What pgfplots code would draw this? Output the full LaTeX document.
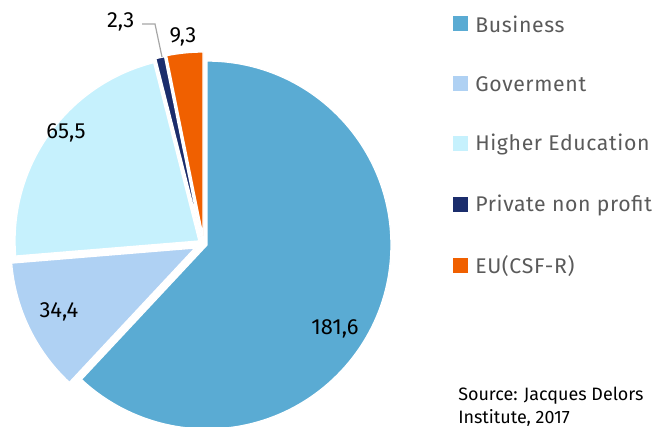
\documentclass[border=0pt]{standalone}
\usepackage{fontspec}
\setmainfont{Fira Sans}
\usepackage{pgfplots}
\pgfplotsset{compat=1.18}

\definecolor{cBus}{HTML}{5AABD3}
\definecolor{cGov}{HTML}{AFD1F3}
\definecolor{cHed}{HTML}{C6F1FD}
\definecolor{cPnp}{HTML}{1B2D6C}
\definecolor{cEu}{HTML}{F06000}
\definecolor{legtext}{HTML}{5A5A5A}

\begin{document}
\begin{tikzpicture}
% values (R&D spending), clockwise from 12 o'clock
\def\vBus{181.6}
\def\vGov{34.4}
\def\vHed{65.5}
\def\vPnp{2.3}
\def\vEu{9.3}
\pgfmathsetmacro\total{\vBus+\vGov+\vHed+\vPnp+\vEu}
\pgfmathsetmacro\aA{90}
\pgfmathsetmacro\aB{\aA-\vBus/\total*360}
\pgfmathsetmacro\aC{\aB-\vGov/\total*360}
\pgfmathsetmacro\aD{\aC-\vHed/\total*360}
\pgfmathsetmacro\aE{\aD-\vPnp/\total*360}
\pgfmathsetmacro\aF{\aE-\vEu/\total*360}
\def\R{138bp}
\begin{axis}[
    name=ax,
    x=0.75bp, y=0.75bp,
    xmin=0, xmax=664, ymin=0, ymax=427,
    hide axis,
    clip=false
]
% slices (each one pulled out a little from the centre)
\fill[cBus, draw=white, line width=1bp] (axis cs:207,182) -- ++(\aA:\R) arc[start angle=\aA, end angle=\aB, radius=\R] -- cycle;
\fill[cGov, draw=white, line width=1bp] (axis cs:195,179) -- ++(\aB:\R) arc[start angle=\aB, end angle=\aC, radius=\R] -- cycle;
\fill[cHed, draw=white, line width=1bp] (axis cs:199,186) -- ++(\aC:\R) arc[start angle=\aC, end angle=\aD, radius=\R] -- cycle;
\fill[cPnp, draw=white, line width=1bp] (axis cs:201,190) -- ++(\aD:\R) arc[start angle=\aD, end angle=\aE, radius=\R] -- cycle;
\fill[cEu, draw=white, line width=1bp] (axis cs:203,191) -- ++(\aE:\R) arc[start angle=\aE, end angle=\aF, radius=\R] -- cycle;

% value labels
\node[font=\fontsize{16.5}{18}\selectfont] at (axis cs:335,98) {181,6};
\node[font=\fontsize{16.5}{18}\selectfont] at (axis cs:59,115) {34,4};
\node[font=\fontsize{16.5}{18}\selectfont] at (axis cs:66,294) {65,5};
\node[font=\fontsize{16.5}{18}\selectfont] at (axis cs:183,390) {9,3};
\node[font=\fontsize{16.5}{18}\selectfont, anchor=east] at (axis cs:139,405) {2,3};
\draw[gray!70, line width=0.9bp] (axis cs:142,403) -- (axis cs:155,403) -- (axis cs:162,370);

% legend
\foreach \c/\yy/\t in {cBus/403/Business, cGov/343/Goverment, cHed/283/Higher Education, cPnp/222/Private non profit, cEu/161/EU(CSF-R)}{
  \edef\tmp{\noexpand\fill[\c] (axis cs:453,\yy-7.5) rectangle (axis cs:468,\yy+7.5);
    \noexpand\node[anchor=west, text=legtext, font=\noexpand\fontsize{16}{18}\noexpand\selectfont\noexpand\addfontfeature{LetterSpace=3}, inner sep=0pt] at (axis cs:475,\yy) {\t};}
  \tmp
}

% source
\node[anchor=base west, inner sep=0pt, font=\fontsize{13.5}{16}\selectfont] at (axis cs:458,27) {Source: Jacques Delors};
\node[anchor=base west, inner sep=0pt, font=\fontsize{13.5}{16}\selectfont] at (axis cs:458,4) {Institute, 2017};
\end{axis}
\pgfresetboundingbox
\useasboundingbox (ax.south west) rectangle (ax.north east);
\end{tikzpicture}
\end{document}
